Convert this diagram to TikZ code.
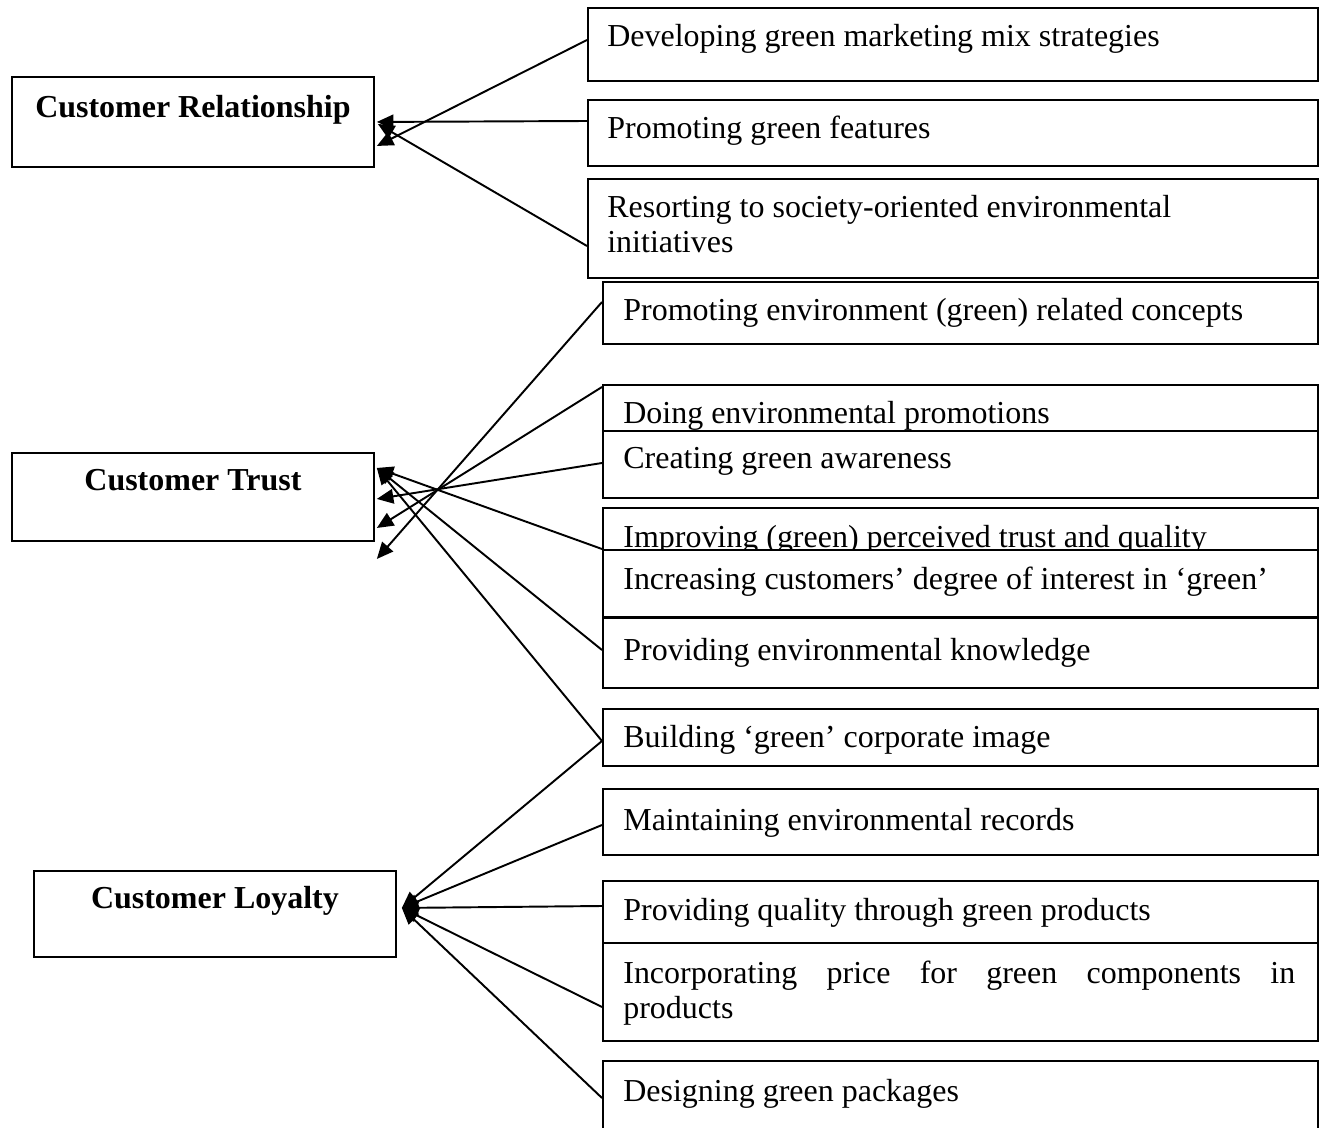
\documentclass[tikz,border=0pt]{standalone}
\usepackage{fontspec}
\setmainfont{Liberation Serif}
\usetikzlibrary{arrows.meta}

\begin{document}
\begin{tikzpicture}[x=0.02cm, y=-0.02cm,
    factor/.style={rectangle, draw, line width=1.1pt, fill=white, inner sep=0pt,
                   anchor=north west, minimum width=7.24cm},
    item/.style={rectangle, draw, line width=1.1pt, fill=white, inner sep=0pt,
                 anchor=north west, minimum width=14.3cm},
    ftext/.style={anchor=base, inner sep=0pt, font=\fontsize{18.2}{19.9}\selectfont\bfseries},
    itext/.style={anchor=base west, inner sep=0pt, align=left,
                  font=\fontsize{18.2}{19.9}\selectfont},
    conn/.style={line width=1.1pt, -{Triangle[length=0.33cm, width=0.29cm]}}]
  \useasboundingbox (0,0) rectangle (1319,1128);

  % left side
  \node[factor, minimum height=1.80cm] (rel) at (11,76)  {};
  \node[ftext] (reltxt) at ([shift={(0,42)}]rel.north) {Customer Relationship};
  \node[factor, minimum height=1.76cm] (tru) at (11,452) {};
  \node[ftext] (trutxt) at ([shift={(0,39)}]tru.north) {Customer Trust};
  \node[factor, minimum height=1.72cm] (loy) at (33,870) {};
  \node[ftext] (loytxt) at ([shift={(0,38)}]loy.north) {Customer Loyalty};

  % right side
  \node[item, minimum width=14.6cm, minimum height=1.46cm] (dev) at (587,7) {};
  \node[itext] at ([shift={(20,40)}]dev.north west) {Developing green marketing mix strategies};
  \node[item, minimum width=14.6cm, minimum height=1.32cm] (prom) at (587,99) {};
  \node[itext] at ([shift={(20,40)}]prom.north west) {Promoting green features};
  \node[item, minimum width=14.6cm, minimum height=1.98cm] (res) at (587,178) {};
  \node[itext, anchor=north west] at ([shift={(20,17)}]res.north west)
    {Resorting to society-oriented environmental\\initiatives};

  \node[item, minimum height=1.24cm] (conc) at (602,281) {};
  \node[itext] at ([shift={(21,40)}]conc.north west) {Promoting environment (green) related concepts};
  \node[item, minimum height=0.92cm] (doing) at (602,384) {};
  \node[itext] at ([shift={(21,40)}]doing.north west) {Doing environmental promotions};
  \node[item, minimum height=1.34cm] (aware) at (602,430) {};
  \node[itext] at ([shift={(21,39)}]aware.north west) {Creating green awareness};
  \node[item, minimum height=0.84cm] (impr) at (602,507) {};
  \node[itext] at ([shift={(21,40)}]impr.north west) {Improving (green) perceived trust and quality};
  \node[item, minimum height=1.34cm] (inter) at (602,549) {};
  \node[itext] at ([shift={(21,40)}]inter.north west) {Increasing customers’ degree of interest in ‘green’};
  \node[item, minimum height=1.40cm] (know) at (602,617) {};
  \node[itext] at ([shift={(21,43)}]know.north west) {Providing environmental knowledge};

  \node[item, minimum height=1.14cm] (image) at (602,708) {};
  \node[itext] at ([shift={(21,39)}]image.north west) {Building ‘green’ corporate image};
  \node[item, minimum height=1.32cm] (rec) at (602,788) {};
  \node[itext] at ([shift={(21,42)}]rec.north west) {Maintaining environmental records};
  \node[item, minimum height=1.24cm] (qual) at (602,880) {};
  \node[itext] at ([shift={(21,40)}]qual.north west) {Providing quality through green products};
  \node[item, minimum height=1.96cm] (price) at (602,942) {};
  \node[itext, anchor=north west] at ([shift={(21,19)}]price.north west)
    {\makebox[13.44cm][s]{Incorporating price for green components in}\\products};
  \node[item, minimum height=1.80cm] (pack) at (602,1060) {};
  \node[itext] at ([shift={(21,41)}]pack.north west) {Designing green packages};

  % connectors
  \draw[conn] ([shift={(0,33)}]dev.north west) -- ([shift={(2,24)}]rel.east);
  \draw[conn] ([shift={(0,22)}]prom.north west) -- ([shift={(2,0)}]rel.east);
  \draw[conn] ([shift={(0,68)}]res.north west) -- ([shift={(3,2)}]rel.east);

  \draw[conn] ([shift={(0,21)}]conc.north west) -- ([shift={(2,62)}]tru.east);
  \draw[conn] ([shift={(0,3)}]doing.north west) -- ([shift={(2,31)}]tru.east);
  \draw[conn] ([shift={(0,33)}]aware.north west) -- ([shift={(2,2)}]tru.east);
  \draw[conn] (inter.north west) -- ([shift={(2,-29)}]tru.east);
  \draw[conn] ([shift={(0,33)}]know.north west) -- ([shift={(2,-29)}]tru.east);
  \draw[conn] ([shift={(0,33)}]image.north west) -- ([shift={(2,-29)}]tru.east);

  \draw[conn] ([shift={(0,33)}]image.north west) -- ([shift={(5,-6)}]loy.east);
  \draw[conn] ([shift={(0,37)}]rec.north west) -- ([shift={(5,-6)}]loy.east);
  \draw[conn] ([shift={(0,26)}]qual.north west) -- ([shift={(5,-6)}]loy.east);
  \draw[conn] ([shift={(0,65)}]price.north west) -- ([shift={(5,-6)}]loy.east);
  \draw[conn] ([shift={(0,38)}]pack.north west) -- ([shift={(5,-6)}]loy.east);
\end{tikzpicture}
\end{document}
